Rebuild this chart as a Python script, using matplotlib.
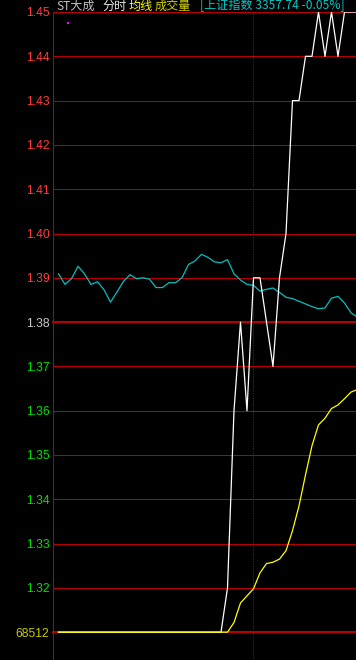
import matplotlib
matplotlib.use('Agg')
import matplotlib.pyplot as plt
import numpy as np

# minute index from 9:30 (only the first 47 minutes are in view)
minutes = np.arange(47)

price = [1.31, 1.31, 1.31, 1.31, 1.31, 1.31, 1.31, 1.31, 1.31, 1.31,
         1.31, 1.31, 1.31, 1.31, 1.31, 1.31, 1.31, 1.31, 1.31, 1.31,
         1.31, 1.31, 1.31, 1.31, 1.31, 1.31, 1.32, 1.36, 1.38, 1.36,
         1.39, 1.39, 1.38, 1.37, 1.39, 1.40, 1.43, 1.43, 1.44, 1.44,
         1.45, 1.44, 1.45, 1.44, 1.45, 1.45, 1.45]

avg_price = [1.31, 1.31, 1.31, 1.31, 1.31, 1.31, 1.31, 1.31, 1.31, 1.31,
             1.31, 1.31, 1.31, 1.31, 1.31, 1.31, 1.31, 1.31, 1.31, 1.31,
             1.31, 1.31, 1.31, 1.31, 1.31, 1.31, 1.31, 1.3122, 1.3166, 1.3182,
             1.3198, 1.3234, 1.3255, 1.3258, 1.3265, 1.3284, 1.3329, 1.3385, 1.3455, 1.3521,
             1.3568, 1.3583, 1.3605, 1.3613, 1.3627, 1.3642, 1.3648]

# Shanghai index overlay, already scaled onto the price axis
index_line = [1.3909, 1.3885, 1.3898, 1.3926, 1.3909, 1.3885, 1.3891, 1.3873, 1.3845, 1.3868,
              1.3892, 1.3907, 1.3898, 1.3900, 1.3897, 1.3878, 1.3878, 1.3889, 1.3889, 1.3900,
              1.3930, 1.3938, 1.3953, 1.3946, 1.3936, 1.3934, 1.3941, 1.3909, 1.3895, 1.3885,
              1.3883, 1.3870, 1.3874, 1.3877, 1.3867, 1.3856, 1.3853, 1.3847, 1.3841, 1.3835,
              1.3830, 1.3832, 1.3854, 1.3858, 1.3843, 1.3821, 1.3811]

levels = [1.45, 1.44, 1.43, 1.42, 1.41, 1.40, 1.39, 1.38, 1.37, 1.36, 1.35, 1.34, 1.33, 1.32, 1.31]
level_labels = ['1.45', '1.44', '1.43', '1.42', '1.41', '1.40', '1.39', '1.38',
                '1.37', '1.36', '1.35', '1.34', '1.33', '1.32', '68512']
prev_close = 1.38
low_limit = 1.31
half_hour = 30

header = [('ST大成', '#c0c0c0'), ('分时', '#e8e8e8'), ('均线', '#ffff00'),
          ('成交量', '#d0d000'), ('[上证指数 3357.74 -0.05%]', '#00c8c8')]
header_x = [56, 102, 129, 155, 200]

plt.rcParams['font.family'] = ['Noto Sans CJK SC', 'DejaVu Sans']

W, H = 356, 660
fig = plt.figure(figsize=(W / 100, H / 100), dpi=100, facecolor='black')
ax = fig.add_axes([53 / W, 0, 303 / W, 648 / H], facecolor='black')

grid_red = '#b80000'
for lv in levels:
    thick = lv in (prev_close, low_limit)
    ax.axhline(lv, color=grid_red, lw=1.5 if thick else 0.72, clip_on=False,
               zorder=1, snap=True)
ax.axvline(half_hour, color=grid_red, lw=0.72, ls=(0, (1, 1.4)), zorder=1)

ax.plot(minutes, index_line, color='#00c0c0', lw=0.9, zorder=2)
ax.plot(minutes, price, color='white', lw=0.9, zorder=3)
ax.plot(minutes, avg_price, color='#ffff00', lw=0.9, zorder=4)

# small marker near top left
ax.plot([1.4], [1.4475], 's', color='#ff00ff', ms=1.6, mew=0, zorder=5)

ax.set_xlim(-0.846, 45.77)
ax.set_ylim(1.45 - 648 / 4430, 1.45)

for s in ['top', 'right', 'bottom']:
    ax.spines[s].set_visible(False)
ax.spines['left'].set_color(grid_red)
ax.spines['left'].set_linewidth(0.72)
ax.set_xticks([])
ax.set_yticks(levels)
ax.set_yticklabels(level_labels, family='Liberation Sans', fontsize=8.7)
ax.tick_params(axis='y', length=0, pad=2.6)
for lab, lv in zip(ax.get_yticklabels(), levels):
    if lv > prev_close:
        lab.set_color('#ff3c3c')
    elif lv == prev_close:
        lab.set_color('#c8c8c8')
    elif lv == low_limit:
        lab.set_color('#c8c800')
    else:
        lab.set_color('#00e000')

# header sits partly above the top edge, as in the screenshot
for (txt, col), x in zip(header, header_x):
    fig.text(x / W, 1 - 9.5 / H, txt, color=col, fontsize=8.7,
             ha='left', va='baseline')

fig.savefig('out.png', dpi=100, facecolor='black')
